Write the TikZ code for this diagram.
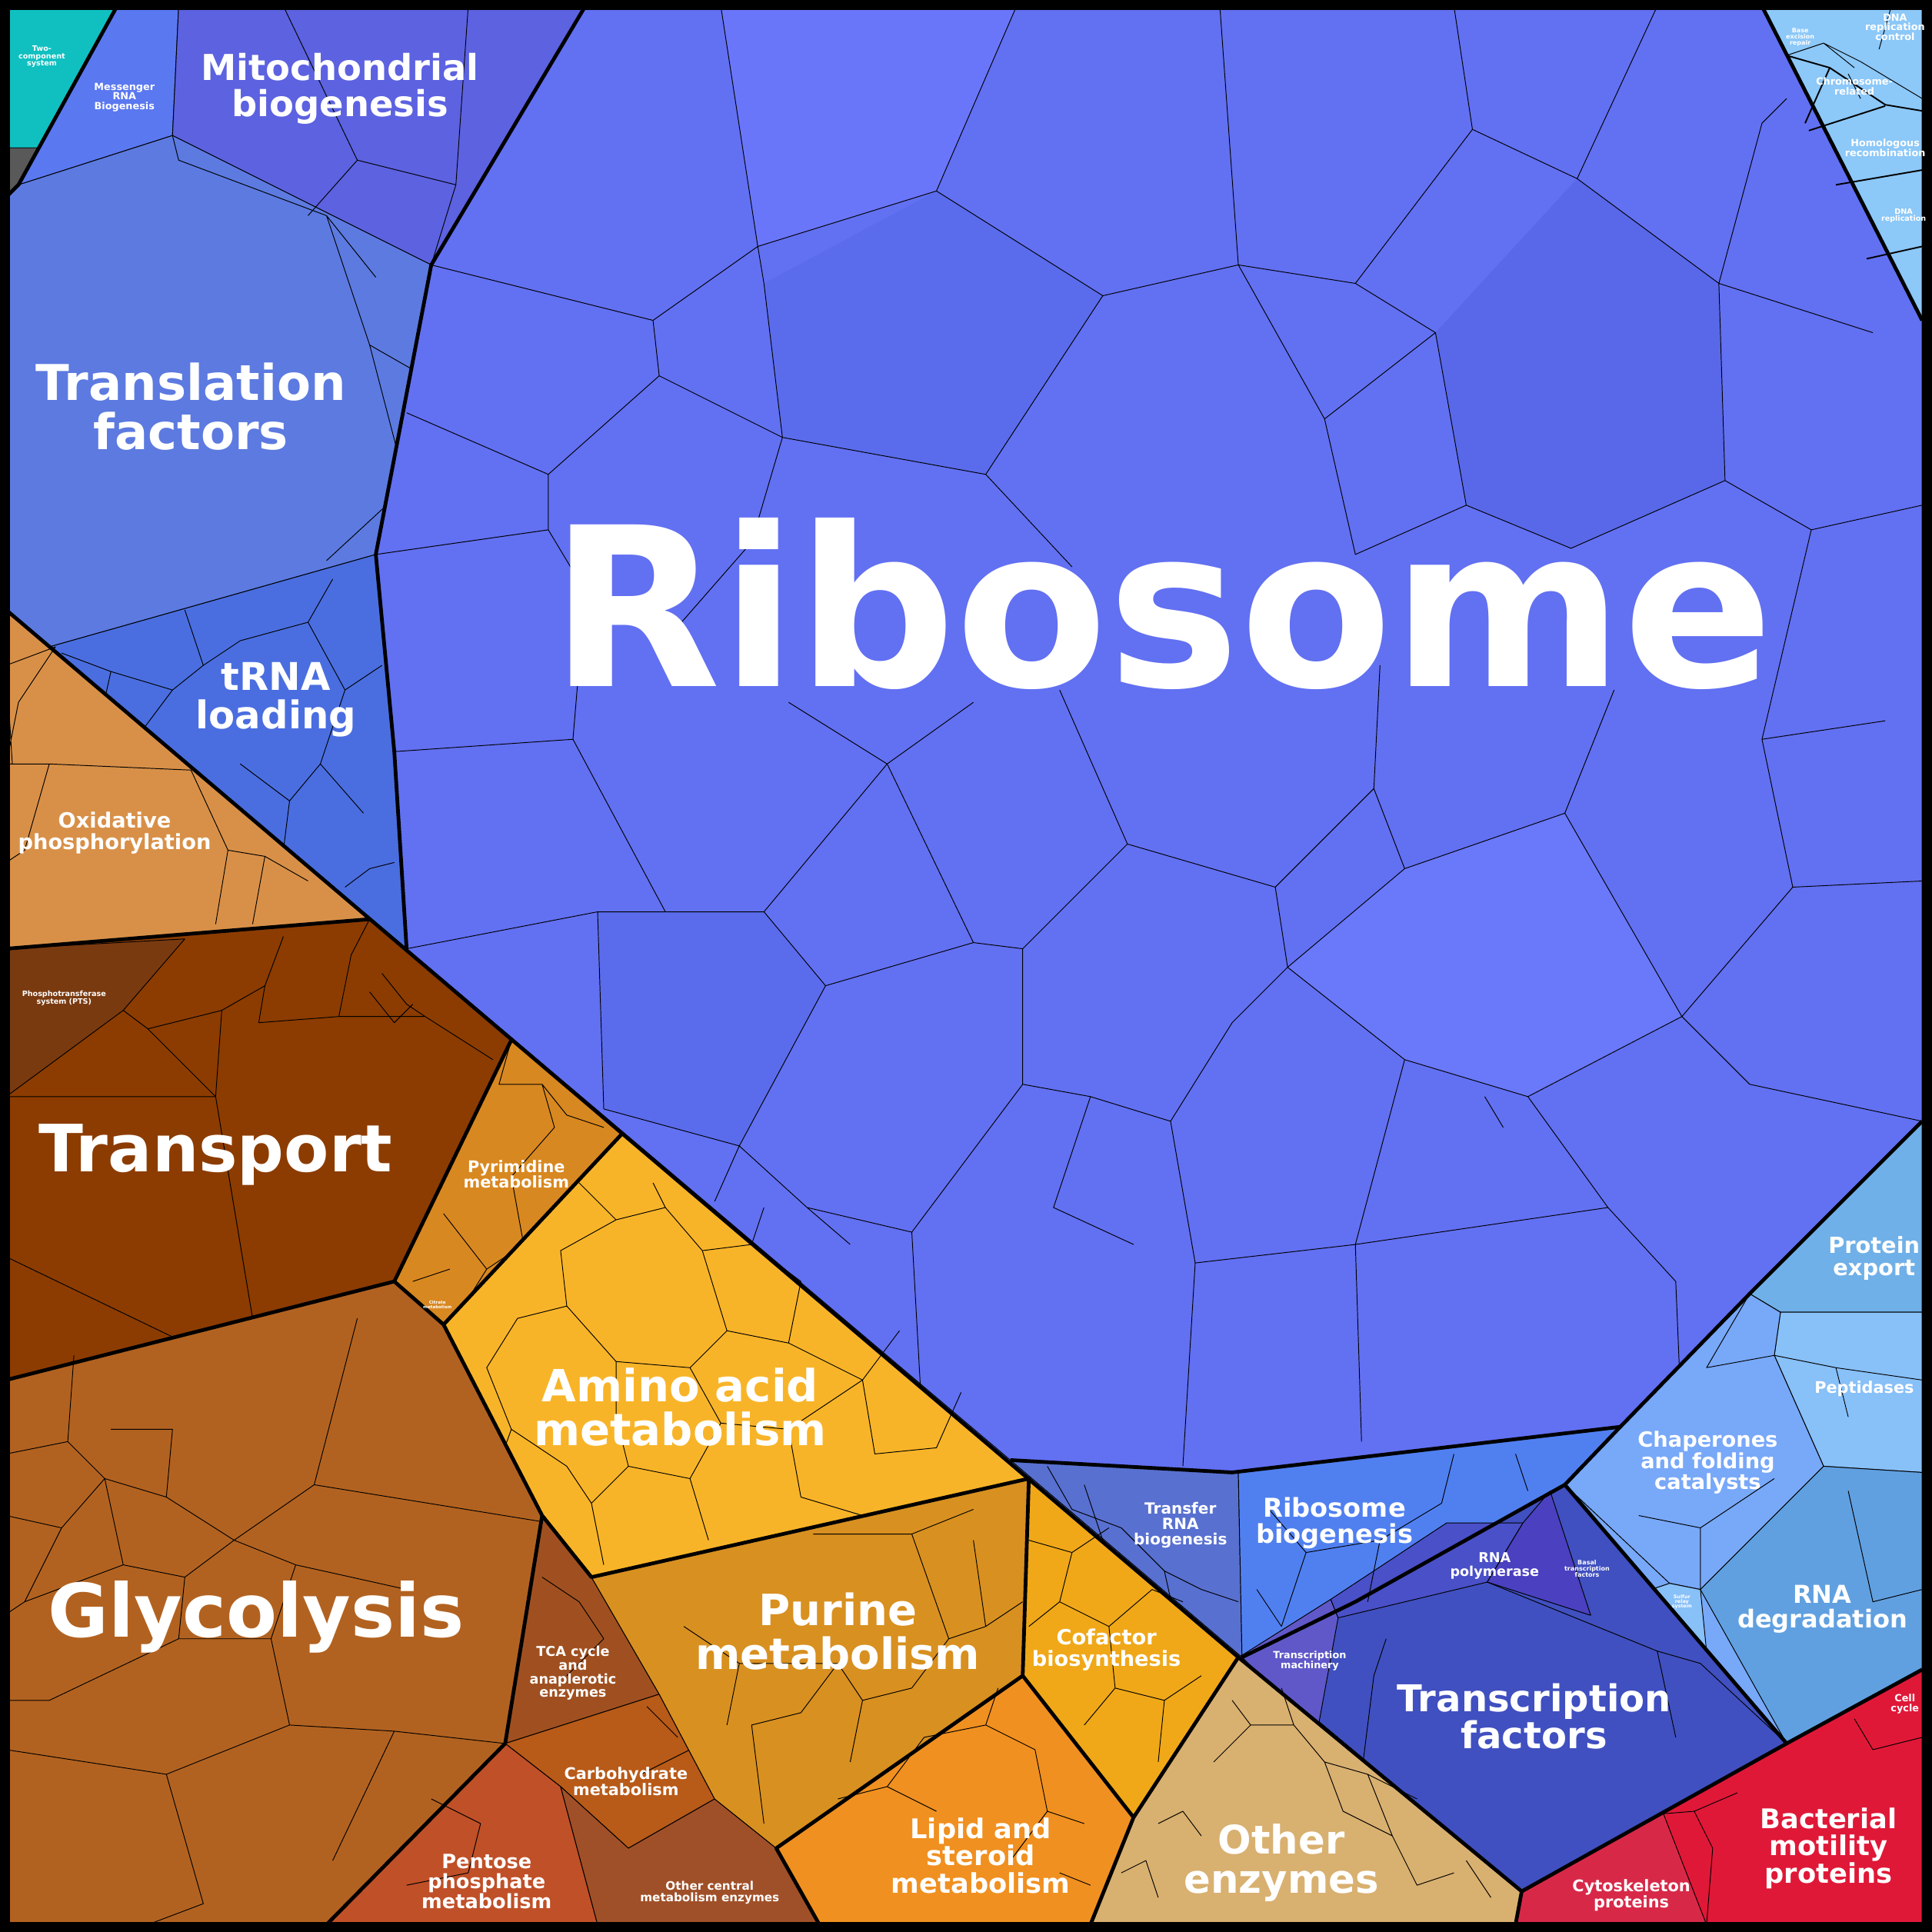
\documentclass[tikz,border=0pt]{standalone}
\usepackage{fontspec}
\setmainfont{DejaVu Sans}
\begin{document}
\begin{tikzpicture}[x=1pt,y=-1pt,
 cell/.style={draw=black,line width=0.6pt,line join=round},
 grp/.style={draw=black,line width=3pt,line join=round},
 lab/.style={text=white,font=\bfseries\fontsize{#1}{#1}\selectfont,align=center,inner sep=0pt}]
\useasboundingbox (0,0) rectangle (1568,1568);
\fill[black] (0,0) rectangle (1568,1568);
% base fills
\fill[fill={rgb,255:red,92;green,122;blue,224}] (5,5) rectangle (1563,1563);
\fill[fill={rgb,255:red,178;green,98;blue,32}] (5,495)--(1005,1345)--(1235,1535)--(1230,1563)--(5,1563)--cycle;
% ---- blue top-left group
\filldraw[cell,fill={rgb,255:red,16;green,192;blue,192}] (5,5)--(95,5)--(31,120)--(5,120)--cycle;
\filldraw[cell,fill=gray!70!black] (5,120)--(31,120)--(15,150)--(5,160)--cycle;
\filldraw[cell,fill={rgb,255:red,90;green,120;blue,240}] (95,5)--(145,5)--(140,110)--(15,150)--cycle;
\filldraw[cell,fill={rgb,255:red,92;green,98;blue,224}] (145,5)--(475,5)--(350,215)--(140,110)--cycle;
\filldraw[cell,fill={rgb,255:red,92;green,122;blue,224}] (5,160)--(15,150)--(140,110)--(350,215)--(305,450)--(40,525)--(5,495)--cycle;
\filldraw[cell,fill={rgb,255:red,74;green,110;blue,224}] (40,525)--(305,450)--(320,610)--(330,770)--cycle;
\draw[cell] (140,110)--(145,130)--(265,175)--(305,225) (265,175)--(300,280)--(335,300) (300,280)--(330,395)--(265,455);
\draw[cell] (150,495)--(165,540)--(195,520)--(250,505)--(270,470) (165,540)--(140,560)--(110,600) (250,505)--(280,560)--(310,540) (280,560)--(260,620)--(295,660) (195,620)--(235,650)--(260,620) (235,650)--(230,690) (280,720)--(300,705)--(320,700) (50,530)--(90,545)--(80,590) (90,545)--(140,560);
\draw[cell] (230,5)--(290,130)--(370,150)--(380,5) (290,130)--(250,175) (370,150)--(350,215);
% ---- ribosome
\filldraw[cell,fill={rgb,255:red,98;green,112;blue,242}] (475,5)--(1430,5)--(1560,260)--(1560,910)--(1420,1050)--(1315,1158)--(1000,1195)--(820,1185)--(330,770)--(320,610)--(305,450)--(350,215)--cycle;
\fill[fill={rgb,255:red,90;green,108;blue,236}] (620,230)--(760,155)--(895,240)--(800,385)--(635,355)--cycle;
\fill[fill={rgb,255:red,106;green,118;blue,250}] (585,5)--(825,5)--(760,155)--(615,200)--cycle;
\fill[fill={rgb,255:red,88;green,104;blue,232}] (1165,270)--(1280,145)--(1395,230)--(1400,390)--(1275,445)--(1190,410)--cycle;
\fill[fill={rgb,255:red,90;green,108;blue,236}] (485,740)--(620,740)--(670,800)--(600,930)--(490,900)--cycle;
\fill[fill={rgb,255:red,106;green,120;blue,250}] (1045,785)--(1140,705)--(1270,660)--(1365,825)--(1240,890)--(1140,860)--cycle;
\draw[cell] (585,5)--(615,200)--(530,260)--(350,215) (615,200)--(760,155)--(825,5) (760,155)--(895,240)--(1005,215)--(990,5) (1005,215)--(1100,230)--(1195,105)--(1180,5) (1195,105)--(1280,145)--(1345,5) (1280,145)--(1395,230)--(1430,100)--(1450,80) (1395,230)--(1520,270)
 (530,260)--(535,305)--(445,385)--(330,335) (535,305)--(635,355)--(620,230)--(615,200) (635,355)--(800,385)--(895,240) (800,385)--(870,460) (445,385)--(445,430)--(305,450) (445,430)--(475,480)--(540,520) (635,355)--(610,440)--(540,520) (1100,230)--(1165,270)--(1075,340)--(1005,215) (1165,270)--(1190,410)--(1275,445)--(1400,390)--(1395,230) (1075,340)--(1100,450)--(1190,410) (1400,390)--(1470,430)--(1560,410)
 (475,480)--(465,600)--(320,610) (465,600)--(540,740)--(485,740)--(490,900) (540,740)--(620,740)--(720,620)--(640,570) (720,620)--(790,570) (620,740)--(670,800)--(600,930)--(490,900) (670,800)--(790,765)--(720,620) (790,765)--(830,770)--(915,685)--(860,560) (915,685)--(1035,720)--(1115,640)--(1120,540) (1035,720)--(1045,785)--(1140,705)--(1115,640) (1140,705)--(1270,660)--(1310,560) (1270,660)--(1365,825)--(1240,890)--(1140,860)--(1045,785) (1365,825)--(1455,720)--(1560,715) (1455,720)--(1430,600)--(1470,430) (1430,600)--(1530,585)
 (330,770)--(485,740) (320,610)--(465,600) (600,930)--(655,980)--(740,1000)--(750,1180) (740,1000)--(830,880)--(830,770) (830,880)--(885,890)--(950,910)--(1000,830)--(1045,785) (950,910)--(970,1025)--(1100,1010)--(1140,860) (970,1025)--(960,1190) (885,890)--(855,980)--(920,1010) (1100,1010)--(1105,1170) (1240,890)--(1305,980)--(1360,1040)--(1365,1160) (1305,980)--(1100,1010) (1205,890)--(1220,915) (1365,825)--(1420,880)--(1560,910) (690,1010)--(655,980) (580,975)--(600,930);
% ---- DNA group top right
\filldraw[cell,fill={rgb,255:red,140;green,200;blue,248}] (1430,5)--(1560,5)--(1560,260)--cycle;
\draw[cell] (1450,45)--(1480,35)--(1510,50)--(1560,80) (1480,35)--(1505,55) (1535,5)--(1525,40) (1500,60)--(1510,80);
\draw[line width=1.2pt] (1450,45)--(1485,55)--(1530,85)--(1560,90) (1485,55)--(1465,100) (1468,106)--(1530,86) (1490,150)--(1560,138) (1515,210)--(1560,200);
% ---- right light-blue group
\fill[fill={rgb,255:red,120;green,168;blue,248}] (1560,910)--(1420,1050)--(1315,1158)--(1270,1205)--(1450,1415)--(1560,1355)--cycle;
\filldraw[cell,fill={rgb,255:red,112;green,176;blue,232}] (1420,1050)--(1560,910)--(1560,1065)--(1445,1065)--cycle;
\filldraw[cell,fill={rgb,255:red,136;green,192;blue,248}] (1445,1065)--(1560,1065)--(1560,1195)--(1480,1190)--(1440,1100)--cycle;
\filldraw[cell,fill={rgb,255:red,120;green,168;blue,248}] (1420,1050)--(1445,1065)--(1440,1100)--(1480,1190)--(1380,1290)--(1355,1285)--(1270,1205)--(1315,1158)--cycle;
\filldraw[cell,fill={rgb,255:red,96;green,160;blue,224}] (1380,1290)--(1480,1190)--(1560,1195)--(1560,1355)--(1450,1415)--cycle;
\filldraw[cell,fill={rgb,255:red,136;green,192;blue,248}] (1355,1285)--(1380,1290)--(1385,1340)--(1340,1290)--cycle;
\draw[cell] (1440,1100)--(1490,1110)--(1500,1150) (1490,1110)--(1560,1120) (1330,1230)--(1380,1240)--(1440,1200) (1380,1240)--(1380,1290) (1500,1210)--(1520,1300)--(1560,1290) (1385,1110)--(1420,1050) (1385,1110)--(1440,1100);
% ---- transcription group
\filldraw[cell,fill={rgb,255:red,88;green,112;blue,208}] (820,1185)--(1005,1195)--(1008,1345)--cycle;
\filldraw[cell,fill={rgb,255:red,80;green,128;blue,240}] (1005,1195)--(1315,1158)--(1270,1205)--(1100,1300)--(1008,1345)--cycle;
\filldraw[cell,fill={rgb,255:red,64;green,80;blue,192}] (1008,1345)--(1100,1300)--(1270,1205)--(1450,1415)--(1235,1535)--cycle;
\filldraw[cell,fill={rgb,255:red,96;green,88;blue,200}] (1007,1344)--(1080,1298)--(1086,1313)--(1069,1406)--cycle;
\filldraw[cell,fill={rgb,255:red,74;green,80;blue,200}] (1080,1298)--(1174,1236)--(1236,1236)--(1207,1284)--(1086,1313)--cycle;
\filldraw[cell,fill={rgb,255:red,74;green,64;blue,192}] (1236,1236)--(1207,1284)--(1291,1311)--(1258,1210)--cycle;
\draw[cell] (1125,1330)--(1115,1360)--(1105,1440)--(1140,1500) (1207,1284)--(1345,1340)--(1380,1350) (1345,1340)--(1360,1410) (1380,1350)--(1450,1415);
\draw[cell] (850,1190)--(870,1225)--(910,1240)--(945,1275)--(975,1290)--(1005,1300) (880,1205)--(895,1250) (945,1275)--(955,1320) (1030,1225)--(1060,1260)--(1040,1320) (1060,1260)--(1120,1250)--(1170,1220) (1120,1250)--(1110,1300) (1170,1220)--(1180,1180) (1230,1180)--(1240,1210) (1020,1290)--(1040,1320);
% ---- red group
\filldraw[cell,fill={rgb,255:red,224;green,24;blue,56}] (1235,1535)--(1450,1415)--(1560,1355)--(1560,1562)--(1230,1562)--cycle;
\filldraw[cell,fill={rgb,255:red,216;green,40;blue,72}] (1235,1535)--(1350,1472)--(1385,1562)--(1230,1562)--cycle;
\draw[cell] (1350,1472)--(1375,1470)--(1390,1500)--(1385,1562) (1375,1470)--(1410,1455) (1505,1395)--(1520,1420)--(1560,1410);
% ---- orange/brown metabolism
\filldraw[cell,fill={rgb,255:red,216;green,144;blue,72}] (5,495)--(300,746)--(5,770)--cycle;
\draw[cell] (5,540)--(45,525)--(15,570)--(5,620) (5,620)--(40,620)--(155,625)--(185,690)--(175,750) (185,690)--(215,695)--(250,715) (215,695)--(205,750) (40,620)--(20,690)--(5,700) (5,540)--(10,620);
\filldraw[cell,fill={rgb,255:red,140;green,60;blue,0}] (5,770)--(300,746)--(415,844)--(320,1040)--(5,1120)--cycle;
\filldraw[cell,fill={rgb,255:red,122;green,58;blue,16}] (5,770)--(150,762)--(100,820)--(5,890)--cycle;
\draw[cell] (100,820)--(120,835)--(175,890)--(180,820)--(215,800)--(230,760) (175,890)--(5,890) (215,800)--(210,830)--(275,825)--(285,775) (275,825)--(345,825)--(400,860) (180,820)--(120,835) (175,890)--(205,1070) (5,1020)--(140,1085) (285,775)--(300,746) (310,790)--(330,815)--(345,825) (300,805)--(320,830)--(335,815);
\filldraw[cell,fill={rgb,255:red,216;green,136;blue,32}] (415,844)--(505,920)--(360,1075)--(320,1040)--cycle;
\draw[cell] (415,844)--(405,880)--(440,880)--(460,905)--(490,915) (440,880)--(450,915)--(415,955)--(425,1010)--(395,1030) (360,985)--(395,1030)--(370,1070) (335,1040)--(365,1030);
\filldraw[cell,fill={rgb,255:red,248;green,180;blue,40}] (505,920)--(835,1200)--(480,1280)--(440,1230)--(360,1075)--cycle;
\draw[cell] (470,960)--(500,990)--(455,1015)--(460,1060)--(420,1070)--(395,1110)--(415,1160)--(395,1215)--(440,1230) (500,990)--(540,980)--(570,1015)--(590,1080)--(640,1090)--(650,1040)--(610,1010)--(570,1015) (640,1090)--(700,1120)--(730,1080) (700,1120)--(710,1180)--(760,1175)--(780,1130) (590,1080)--(560,1110)--(500,1105)--(460,1060) (560,1110)--(585,1155)--(640,1160)--(700,1120) (585,1155)--(560,1200)--(510,1190)--(500,1150)--(500,1105) (510,1190)--(480,1220)--(460,1190)--(415,1160) (640,1160)--(650,1215)--(700,1230) (560,1200)--(575,1250) (480,1220)--(490,1270) (530,960)--(540,980) (610,1010)--(620,980);
\filldraw[cell,fill={rgb,255:red,178;green,98;blue,32}] (5,1120)--(320,1040)--(360,1075)--(440,1230)--(410,1415)--(265,1562)--(5,1562)--cycle;
\draw[cell] (5,1180)--(55,1170)--(85,1200)--(50,1240)--(5,1230) (55,1170)--(60,1100) (85,1200)--(135,1215)--(140,1160)--(90,1160) (135,1215)--(190,1250)--(150,1280)--(100,1270)--(85,1200) (190,1250)--(255,1205)--(290,1070) (255,1205)--(440,1235) (150,1280)--(145,1330)--(220,1330)--(240,1270)--(190,1250) (240,1270)--(330,1290) (220,1330)--(235,1400)--(135,1440)--(5,1420) (235,1400)--(320,1405)--(410,1415) (135,1440)--(165,1545)--(120,1562) (50,1240)--(20,1300)--(5,1310) (100,1270)--(20,1300) (145,1330)--(40,1380)--(5,1380) (270,1510)--(320,1405);
\filldraw[cell,fill={rgb,255:red,160;green,80;blue,32}] (440,1230)--(480,1280)--(535,1375)--(410,1415)--cycle;
\filldraw[cell,fill={rgb,255:red,184;green,90;blue,24}] (410,1415)--(535,1375)--(580,1460)--(510,1500)--(455,1450)--cycle;
\filldraw[cell,fill={rgb,255:red,192;green,80;blue,40}] (265,1562)--(410,1415)--(455,1450)--(485,1562)--cycle;
\filldraw[cell,fill={rgb,255:red,160;green,80;blue,40}] (455,1450)--(510,1500)--(580,1460)--(630,1500)--(665,1562)--(485,1562)--cycle;
\draw[cell] (440,1280)--(470,1300)--(490,1330)--(460,1360) (350,1460)--(390,1480)--(380,1520)--(330,1530) (520,1440)--(560,1420) (525,1385)--(550,1410);
\filldraw[cell,fill={rgb,255:red,216;green,144;blue,32}] (480,1280)--(835,1200)--(830,1360)--(630,1500)--(580,1460)--(535,1375)--cycle;
\draw[cell] (660,1245)--(740,1245)--(790,1225) (740,1245)--(770,1330)--(740,1370)--(700,1380)--(680,1350)--(600,1350)--(590,1400) (680,1350)--(650,1390)--(610,1400)--(620,1480) (700,1380)--(690,1430) (770,1330)--(800,1320)--(830,1300) (790,1250)--(800,1320) (555,1320)--(600,1350);
\filldraw[cell,fill={rgb,255:red,240;green,168;blue,24}] (835,1200)--(1005,1345)--(920,1475)--(830,1360)--cycle;
\draw[cell] (835,1250)--(870,1260)--(900,1240) (870,1260)--(860,1300)--(900,1320)--(935,1290)--(960,1300) (860,1300)--(835,1320) (900,1320)--(905,1370)--(945,1380)--(975,1360) (905,1370)--(880,1400) (945,1380)--(940,1430);
\filldraw[cell,fill={rgb,255:red,240;green,144;blue,32}] (630,1500)--(830,1360)--(920,1475)--(885,1562)--(665,1562)--cycle;
\draw[cell] (750,1410)--(800,1400)--(840,1420)--(850,1470)--(880,1480) (800,1400)--(810,1370) (750,1410)--(720,1450)--(760,1470) (720,1450)--(680,1460) (850,1470)--(820,1510) (860,1520)--(885,1530);
\filldraw[cell,fill={rgb,255:red,216;green,176;blue,112}] (1005,1345)--(1235,1535)--(1230,1562)--(885,1562)--(920,1475)--cycle;
\draw[cell] (1000,1380)--(1015,1400)--(1050,1400)--(1075,1430)--(1090,1470)--(1130,1490)--(1150,1530)--(1180,1520) (1015,1400)--(985,1430) (1075,1430)--(1110,1440)--(1130,1490) (940,1480)--(960,1470)--(975,1490) (910,1520)--(930,1510)--(940,1540) (1110,1440)--(1150,1460) (1190,1510)--(1210,1540) (1050,1400)--(1040,1370);
% ---- group borders
\draw[grp] (5,495)--(1005,1345)--(1235,1535)--(1230,1562);
\draw[grp] (95,5)--(15,150)--(5,160);
\draw[grp] (475,5)--(350,215)--(305,450)--(320,610)--(330,770);
\draw[grp] (1430,5)--(1560,260);
\draw[grp] (1560,910)--(1420,1050)--(1315,1158)--(1000,1195)--(820,1185);
\draw[grp] (1008,1345)--(1100,1300)--(1270,1205)--(1315,1158) (1270,1205)--(1450,1415)--(1560,1355) (1235,1535)--(1450,1415);
\draw[grp] (5,770)--(300,746) (5,1120)--(320,1040)--(415,844) (320,1040)--(360,1075)--(505,920) (440,1230)--(480,1280)--(835,1200)--(830,1360)--(920,1475)--(885,1562) (830,1360)--(630,1500)--(665,1562) (410,1415)--(265,1562) (440,1230)--(410,1415) (360,1075)--(440,1230) (920,1475)--(1005,1345);
\draw[line width=8pt] (4,4) rectangle (1564,1564);
% ---- labels
\node[lab=180] (ribo) at (943,490) {Ribosome};
\node[lab=40] (tf) at (155,330) {Translation\\factors};
\node[lab=29] (mito) at (276,72) {Mitochondrial\\biogenesis};
\node[lab=8] (mrna) at (101,79) {Messenger\\RNA\\Biogenesis};
\node[lab=6] (two) at (34,46) {Two-\\component\\system};
\node[lab=31] (trna) at (224,568) {tRNA\\loading};
\node[lab=8] (dnarc) at (1538,22) {DNA\\replication\\control};
\node[lab=5] (ber) at (1461,30) {Base\\excision\\repair};
\node[lab=8] (chr) at (1505,70) {Chromosome-\\related};
\node[lab=8] (hom) at (1530,120) {Homologous\\recombination};
\node[lab=6] (dnar) at (1545,175) {DNA\\replication};
\node[lab=18] (pe) at (1521,1021) {Protein\\export};
\node[lab=13] (pep) at (1513,1127) {Peptidases};
\node[lab=17] (chap) at (1386,1187) {Chaperones\\and folding\\catalysts};
\node[lab=20] (rnad) at (1479,1306) {RNA\\degradation};
\node[lab=4] (sulf) at (1365,1300) {Sulfur\\relay\\system};
\node[lab=12.5] (trnab) at (958,1238) {Transfer\\RNA\\biogenesis};
\node[lab=21] (ribob) at (1083,1236) {Ribosome\\biogenesis};
\node[lab=11] (rnap) at (1213,1271) {RNA\\polymerase};
\node[lab=5] (basal) at (1288,1273) {Basal\\transcription\\factors};
\node[lab=8] (tmach) at (1063,1348) {Transcription\\machinery};
\node[lab=30] (tfac) at (1245,1393) {Transcription\\factors};
\node[lab=22] (bmp) at (1484,1500) {Bacterial\\motility\\proteins};
\node[lab=13] (cyto) at (1324,1538) {Cytoskeleton\\proteins};
\node[lab=8] (cc) at (1546,1383) {Cell\\cycle};
\node[lab=17] (ox) at (93,676) {Oxidative\\phosphorylation};
\node[lab=6] (pts) at (52,810) {Phosphotransferase\\system (PTS)};
\node[lab=53] (trans) at (175,937) {Transport};
\node[lab=13] (pyr) at (419,953) {Pyrimidine\\metabolism};
\node[lab=3.5] (cit) at (355,1059) {Citrate\\metabolism};
\node[lab=36] (amino) at (552,1142) {Amino acid\\metabolism};
\node[lab=60] (gly) at (208,1312) {Glycolysis};
\node[lab=11] (tca) at (465,1358) {TCA cycle\\and\\anaplerotic\\enzymes};
\node[lab=13] (carb) at (508,1446) {Carbohydrate\\metabolism};
\node[lab=16] (pent) at (395,1527) {Pentose\\phosphate\\metabolism};
\node[lab=9.5] (oth) at (576,1536) {Other central\\metabolism enzymes};
\node[lab=35] (pur) at (680,1324) {Purine\\metabolism};
\node[lab=17] (cof) at (898,1339) {Cofactor\\biosynthesis};
\node[lab=22] (lip) at (796,1506) {Lipid and\\steroid\\metabolism};
\node[lab=32] (oe) at (1040,1512) {Other\\enzymes};
\end{tikzpicture}
\end{document}
